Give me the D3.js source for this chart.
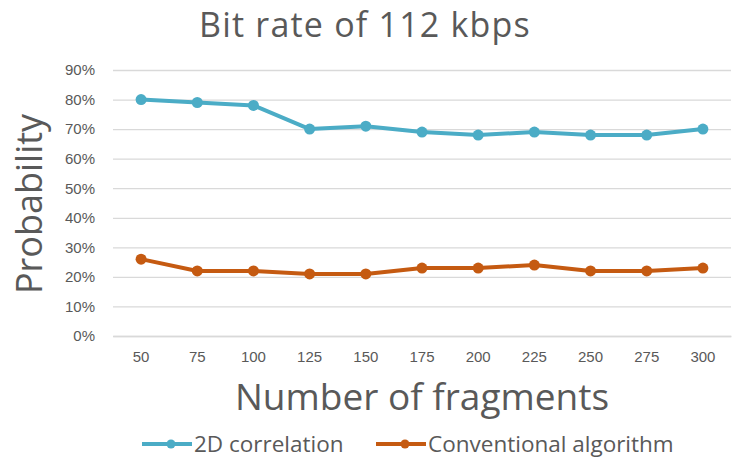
<!DOCTYPE html>
<html>
<head>
<meta charset="utf-8">
<script src="https://cdn.jsdelivr.net/npm/d3@7"></script>
<style>
  html, body { margin: 0; padding: 0; background: #fff; }
  svg { display: block; font-family: "Open Sans", "Noto Sans", sans-serif; }
</style>
</head>
<body>
<svg id="chart" width="739" height="458"></svg>
<script>
// Number of fragments (categories on the x axis)
const fragments = ["50", "75", "100", "125", "150", "175", "200", "225", "250", "275", "300"];
// Probability values in percent
const correlation2D = [80, 79, 78, 70, 71, 69, 68, 69, 68, 68, 70];
const conventional = [26, 22, 22, 21, 21, 23, 23, 24, 22, 22, 23];
const yTicks = [0, 10, 20, 30, 40, 50, 60, 70, 80, 90];

const seriesList = [
  { name: "2D correlation", values: correlation2D, color: "#4bacc6" },
  { name: "Conventional algorithm", values: conventional, color: "#c55a11" }
];

const svg = d3.select("#chart");
const W = 739, H = 458;
const plot = { left: 113, right: 731, top: 70, bottom: 336 };
const textColor = "#595959";

const x = d3.scaleBand().domain(fragments).range([plot.left, plot.right]);
const y = d3.scaleLinear().domain([0, 90]).range([plot.bottom, plot.top]);

svg.append("rect").attr("width", W).attr("height", H).attr("fill", "#fff");

// Horizontal gridlines and percentage labels
const yAxis = d3.axisLeft(y)
  .tickValues(yTicks)
  .tickSize(-(plot.right - plot.left))
  .tickPadding(18)
  .tickFormat(d => d + "%");
const gy = svg.append("g").attr("transform", `translate(${plot.left},0)`).call(yAxis);
gy.select(".domain").remove();
gy.selectAll(".tick line").attr("stroke", "#d9d9d9").attr("stroke-width", 1.3);
gy.selectAll(".tick text").attr("fill", textColor).attr("font-size", 15);

// Category axis
const xAxis = d3.axisBottom(x).tickSize(0).tickPadding(15);
const gx = svg.append("g").attr("transform", `translate(0,${plot.bottom})`).call(xAxis);
gx.select(".domain").attr("stroke", "#d9d9d9").attr("stroke-width", 1.3);
gx.selectAll(".tick text").attr("fill", textColor).attr("font-size", 15);

// Lines with circular markers
const line = d3.line()
  .x((d, i) => x(fragments[i]) + x.bandwidth() / 2)
  .y(d => y(d));

seriesList.forEach(s => {
  svg.append("path")
    .datum(s.values)
    .attr("fill", "none")
    .attr("stroke", s.color)
    .attr("stroke-width", 4)
    .attr("stroke-linejoin", "round")
    .attr("d", line);
  svg.append("g").selectAll("circle")
    .data(s.values)
    .join("circle")
    .attr("cx", (d, i) => x(fragments[i]) + x.bandwidth() / 2)
    .attr("cy", d => y(d))
    .attr("r", 5.5)
    .attr("fill", s.color);
});

// Titles
svg.append("text")
  .attr("x", 365).attr("y", 37)
  .attr("text-anchor", "middle")
  .attr("fill", textColor)
  .attr("font-size", 34)
  .attr("letter-spacing", 1.2)
  .text("Bit rate of 112 kbps");

svg.append("text")
  .attr("transform", "translate(42,204) rotate(-90)")
  .attr("text-anchor", "middle")
  .attr("fill", textColor)
  .attr("font-size", 36)
  .text("Probability");

svg.append("text")
  .attr("x", 422).attr("y", 410)
  .attr("text-anchor", "middle")
  .attr("fill", textColor)
  .attr("font-size", 37)
  .text("Number of fragments");

// Legend
const legendY = 444;
const legendItems = [
  { s: seriesList[0], x0: 142 },
  { s: seriesList[1], x0: 376 }
];
legendItems.forEach(({ s, x0 }) => {
  const g = svg.append("g");
  g.append("line")
    .attr("x1", x0).attr("x2", x0 + 50)
    .attr("y1", legendY).attr("y2", legendY)
    .attr("stroke", s.color).attr("stroke-width", 4);
  g.append("circle")
    .attr("cx", x0 + 29).attr("cy", legendY).attr("r", 4.5)
    .attr("fill", s.color);
  g.append("text")
    .attr("x", x0 + 52).attr("y", legendY)
    .attr("dy", "0.35em")
    .attr("fill", textColor)
    .attr("font-size", 22.5)
    .text(s.name);
});
</script>
</body>
</html>
